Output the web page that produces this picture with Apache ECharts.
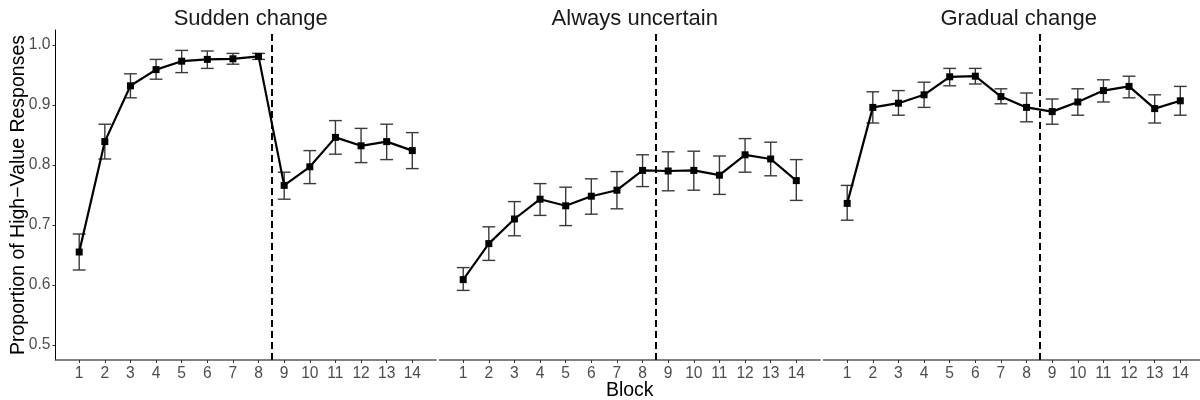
<!DOCTYPE html>
<html>
<head>
<meta charset="utf-8">
<script src="https://cdn.jsdelivr.net/npm/echarts@6/dist/echarts.min.js"></script>
<style>
  html, body { margin: 0; padding: 0; background: #fff; }
  #chart { width: 1200px; height: 400px; }
</style>
</head>
<body>
<div id="chart"></div>
<script>
var blocks = [1, 2, 3, 4, 5, 6, 7, 8, 9, 10, 11, 12, 13, 14];
var yTicks = [0.5, 0.6, 0.7, 0.8, 0.9, 1.0];
var panelTitles = ['Sudden change', 'Always uncertain', 'Gradual change'];
var changePoint = 8.5;

// Sudden change
var suddenMean = [0.655, 0.839, 0.932, 0.959, 0.973, 0.976, 0.977, 0.981, 0.766, 0.797, 0.846, 0.832, 0.839, 0.824];
var suddenLow  = [0.625, 0.810, 0.912, 0.943, 0.954, 0.961, 0.968, 0.976, 0.743, 0.769, 0.818, 0.804, 0.809, 0.794];
var suddenHigh = [0.685, 0.868, 0.952, 0.976, 0.991, 0.990, 0.986, 0.986, 0.788, 0.824, 0.874, 0.861, 0.868, 0.854];

// Always uncertain
var uncertainMean = [0.609, 0.669, 0.710, 0.743, 0.732, 0.748, 0.758, 0.791, 0.790, 0.791, 0.783, 0.817, 0.810, 0.774];
var uncertainLow  = [0.591, 0.641, 0.682, 0.716, 0.699, 0.718, 0.727, 0.764, 0.757, 0.758, 0.751, 0.788, 0.782, 0.741];
var uncertainHigh = [0.629, 0.697, 0.739, 0.769, 0.763, 0.777, 0.789, 0.817, 0.822, 0.823, 0.815, 0.844, 0.838, 0.809];

// Gradual change
var gradualMean = [0.736, 0.896, 0.903, 0.917, 0.947, 0.948, 0.914, 0.896, 0.889, 0.905, 0.924, 0.931, 0.894, 0.907];
var gradualLow  = [0.708, 0.870, 0.883, 0.896, 0.932, 0.935, 0.902, 0.872, 0.868, 0.883, 0.905, 0.912, 0.870, 0.883];
var gradualHigh = [0.766, 0.922, 0.924, 0.938, 0.961, 0.961, 0.927, 0.920, 0.910, 0.927, 0.942, 0.948, 0.917, 0.931];

var means = [suddenMean, uncertainMean, gradualMean];
var lows = [suddenLow, uncertainLow, gradualLow];
var highs = [suddenHigh, uncertainHigh, gradualHigh];

var FONT = '"Liberation Sans", Arial, Helvetica, sans-serif';
var panelLefts = [55.5, 439.5, 823.5];
var panelWidth = 380.5;
var capHalf = 0.25;

var chart = echarts.init(document.getElementById('chart'), null, {renderer: 'canvas'});

var grids = [], xAxes = [], yAxes = [], series = [], titles = [];

for (var p = 0; p < 3; p++) {
    grids.push({left: panelLefts[p], width: panelWidth, top: 30, height: 330,
        containLabel: false, outerBoundsMode: 'none'});
    titles.push({
        text: panelTitles[p],
        left: panelLefts[p] + panelWidth / 2,
        top: 3,
        textAlign: 'center',
        textStyle: {fontFamily: FONT, fontSize: 22, fontWeight: 'normal', color: '#1a1a1a'}
    });
    xAxes.push({
        type: 'value',
        gridIndex: p,
        min: 0.075,
        max: 14.925,
        name: p === 1 ? 'Block' : '',
        nameLocation: 'middle',
        nameGap: 21,
        nameMoveOverlap: false,
        nameTextStyle: {fontFamily: FONT, fontSize: 19.5, color: '#000'},
        axisLine: {show: true, onZero: false, lineStyle: {color: '#5a5a5a', width: 1.5}},
        axisTick: {show: true, length: 3, customValues: blocks, lineStyle: {color: '#333'}},
        axisLabel: {customValues: blocks, margin: 6, fontFamily: FONT, fontSize: 15.6, color: '#4d4d4d'},
        splitLine: {show: false}
    });
    yAxes.push({
        type: 'value',
        gridIndex: p,
        min: 0.475,
        max: 1.025,
        show: p === 0,
        name: p === 0 ? 'Proportion of High\u2212Value Responses' : '',
        nameLocation: 'middle',
        nameRotate: 90,
        nameGap: 27,
        nameMoveOverlap: false,
        nameTextStyle: {fontFamily: FONT, fontSize: 19.5, color: '#000'},
        axisLine: {show: true, lineStyle: {color: '#000', width: 1}},
        axisTick: {show: true, length: 3, customValues: yTicks, lineStyle: {color: '#333'}},
        axisLabel: {
            customValues: yTicks, margin: 5, fontFamily: FONT, fontSize: 15.6, color: '#4d4d4d',
            formatter: function (v) { return v.toFixed(1); }
        },
        splitLine: {show: false}
    });

    var errData = [];
    for (var i = 0; i < blocks.length; i++) {
        errData.push([blocks[i], lows[p][i], highs[p][i]]);
    }
    series.push({
        type: 'custom',
        xAxisIndex: p,
        yAxisIndex: p,
        z: 2,
        silent: true,
        data: errData,
        renderItem: function (params, api) {
            var x = api.value(0);
            var lo = api.coord([x, api.value(1)]);
            var hi = api.coord([x, api.value(2)]);
            var l = api.coord([x - capHalf, api.value(1)])[0];
            var r = api.coord([x + capHalf, api.value(1)])[0];
            var st = {stroke: '#3a3a3a', lineWidth: 1.4};
            return {
                type: 'group',
                children: [
                    {type: 'line', shape: {x1: lo[0], y1: lo[1], x2: hi[0], y2: hi[1]}, style: st},
                    {type: 'line', shape: {x1: l, y1: lo[1], x2: r, y2: lo[1]}, style: st},
                    {type: 'line', shape: {x1: l, y1: hi[1], x2: r, y2: hi[1]}, style: st}
                ]
            };
        }
    });

    var lineData = [];
    for (var j = 0; j < blocks.length; j++) {
        lineData.push([blocks[j], means[p][j]]);
    }
    series.push({
        type: 'line',
        xAxisIndex: p,
        yAxisIndex: p,
        z: 3,
        data: lineData,
        symbol: 'rect',
        symbolSize: 7,
        showSymbol: true,
        itemStyle: {color: '#000'},
        lineStyle: {color: '#000', width: 2.2},
        animation: false,
        markLine: {
            silent: true,
            symbol: 'none',
            label: {show: false},
            lineStyle: {color: '#000', width: 2, type: [7, 4]},
            data: [{xAxis: changePoint}]
        }
    });
}

chart.setOption({
    animation: false,
    backgroundColor: '#fff',
    title: titles,
    grid: grids,
    xAxis: xAxes,
    yAxis: yAxes,
    series: series
});

window.onresize = function () {
    chart.resize();
};
</script>
</body>
</html>
